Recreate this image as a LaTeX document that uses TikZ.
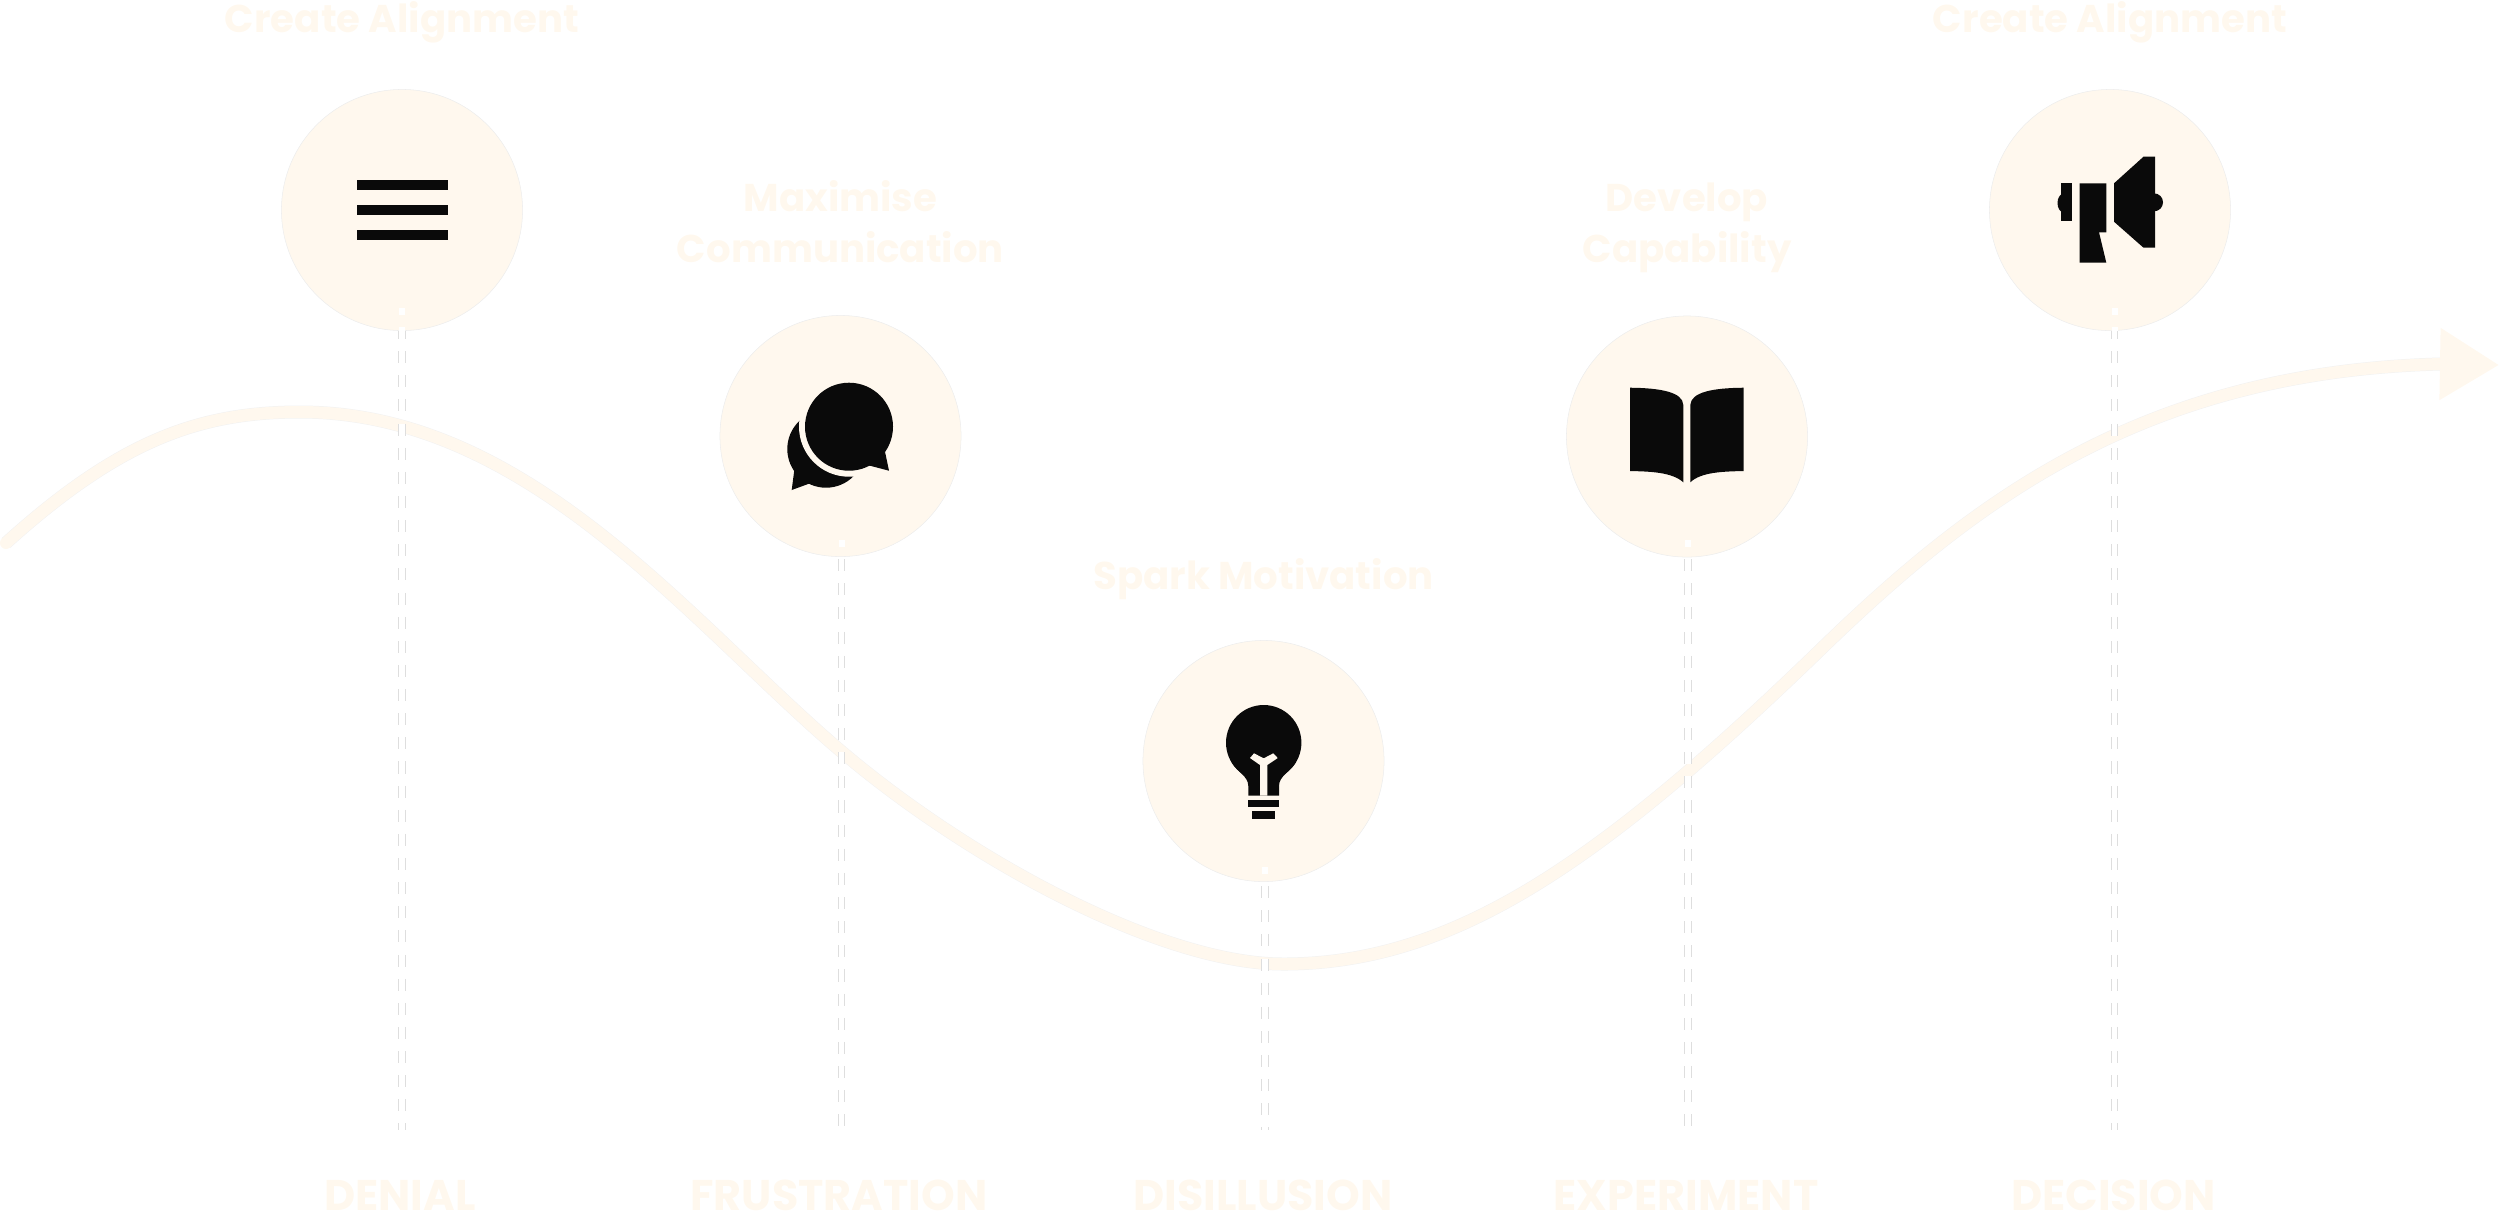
\documentclass[tikz,border=0pt]{standalone}
\usepackage{fontspec}
\setmainfont{Poppins}
\usetikzlibrary{arrows.meta, positioning}
\definecolor{cream}{HTML}{FFF8EE}
\definecolor{icon}{HTML}{0A0A0A}
\begin{document}
\begin{tikzpicture}[
  x=0.01cm, y=-0.01cm,
  stagecirc/.style={
    circle, fill=cream, draw=black!7, line width=0.15pt,
    minimum size=2.41cm, inner sep=0pt
  },
  tasktitle/.style={
    align=center, inner sep=0pt, text depth=0pt,
    text=cream, font=\fontsize{11}{14.5}\selectfont\bfseries
  },
  stagelabel/.style={
    inner sep=0pt, text=cream, font=\fontsize{12.2}{14}\selectfont\bfseries
  },
  dashtop/.style={
    draw=white, line width=0.06cm,
    dash pattern=on 0.1206cm off 0.1206cm, dash phase=0.05cm
  },
  dashln/.style={
    draw=black!13, line width=0.3pt, double=white, double distance=0.055cm,
    dash pattern=on 0.1206cm off 0.1206cm
  },
  arr/.style={
    -{Triangle[length=0.59cm, width=0.69cm]}, draw=cream,
    line width=0.12cm, line cap=round,
    preaction={draw=black!5, line width=0.13cm, shorten >=0.59cm, -}
  },
  iconfill/.style={fill=icon, draw=none},
  iconcut/.style={fill=cream, draw=none}
]
  \useasboundingbox (0,0) rectangle (2500,1217);

  \node[stagecirc] (c1) at (402,210) {};
  \node[stagecirc] (c2) at (840.5,436) {};
  \node[stagecirc] (c3) at (1263.5,761) {};
  \node[stagecirc] (c4) at (1687,436.5) {};
  \node[stagecirc] (c5) at (2110,210) {};

  \node[tasktitle, above=0.56cm of c1] (t1) {Create Alignment};
  \node[tasktitle, above=0.52cm of c2] (t2) {Maximise\\Communication};
  \node[tasktitle, above=0.50cm of c3] (t3) {Spark Motivation};
  \node[tasktitle, above=0.52cm of c4] (t4) {Develop\\Capability};
  \node[tasktitle, above=0.56cm of c5] (t5) {Create Alignment};

  \node[stagelabel] (l1) at (400,1195) {DENIAL};
  \node[stagelabel] (l2) at (839,1195) {FRUSTRATION};
  \node[stagelabel] (l3) at (1263,1195) {DISILLUSION};
  \node[stagelabel] (l4) at (1686,1195) {EXPERIMENT};
  \node[stagelabel] (l5) at (2113.5,1195) {DECISION};

  % the curve
  \coordinate (cstart) at (6,543);
  \coordinate (ctop) at (300,412);
  \coordinate (cdown) at (842,752);
  \coordinate (cbot) at (1283,964);
  \coordinate (cup) at (1820,650);
  \coordinate (cbase) at (2440,364);
  \coordinate (cend) at (2499,365);
  \draw[arr] (cstart) .. controls (120,440) and (200,412) .. (ctop)
    .. controls (530,412) and (692,625) .. (cdown)
    .. controls (972,862) and (1163,964) .. (cbot)
    .. controls (1453,964) and (1600,863) .. (cup)
    .. controls (1970,504.5) and (2140,372) .. (cbase) -- (cend);

  % drop lines
  \foreach \nm/\px/\py/\pb/\ph in {1/402/308/331/0.04, 2/841.5/540/557/0.22,
      3/1265/867/881.5/0.195, 4/1688/540/557/0.22, 5/2114.5/308/331/0.04}{
    \coordinate (d\nm) at (\px,\py);
    \coordinate (b\nm) at (\px,\pb);
    \coordinate (e\nm) at (\px,1130);
    \draw[dashtop] (d\nm) -- (b\nm);
    \draw[dashln, dash phase=\ph cm] (b\nm) -- (e\nm);
  }

  % bars
  \fill[iconfill] (356.7,180) rectangle (447.7,190.3);
  \fill[iconfill] (356.7,205.3) rectangle (447.7,215.3);
  \fill[iconfill] (356.7,230.3) rectangle (447.7,240.3);

  % speech bubbles
  \fill[iconfill] (826,449) circle (38.7);
  \fill[iconfill] (794.3,470) -- (791.7,490) -- (810,483.3) -- cycle;
  \fill[iconcut] (849,426.7) circle (50);
  \fill[iconfill] (849,426.7) circle (44);
  \fill[iconfill] (885,451.7) -- (889,470.7) -- (867.3,465) -- cycle;

  % bulb
  \fill[iconfill] (1263.7,742.7) circle (37.7);
  \fill[iconfill] (1231.5,762) .. controls (1237,772) and (1248.3,776) .. (1248.3,786)
    -- (1248.3,795.7) -- (1279,795.7) -- (1279,786)
    .. controls (1279,776) and (1290,772) .. (1296,762) -- cycle;
  \fill[iconcut] (1260,795.7) -- (1260,765) -- (1250,758) -- (1254,753.3)
    -- (1263.7,758.3) -- (1273.3,753.3) -- (1277.7,758) -- (1267.3,765)
    -- (1267.3,795.7) -- cycle;
  \fill[iconfill] (1248.3,800) rectangle (1279,807.3);
  \fill[iconfill] (1252.3,811) rectangle (1275,818.7);

  % book
  \fill[iconfill] (1630,387.7) .. controls (1660,388) and (1683,392) .. (1683.3,405)
    -- (1683.3,482.3) .. controls (1672,472) and (1650,471.5) .. (1630,471) -- cycle;
  \fill[iconfill] (1743.7,387.7) .. controls (1713,388) and (1691,392) .. (1690.3,405)
    -- (1690.3,482.3) .. controls (1701,472) and (1723,471.5) .. (1743.7,471) -- cycle;

  % megaphone
  \fill[iconfill] (2060.9,183.3) rectangle (2071.9,221.3);
  \fill[iconfill] (2063,203) ellipse (5.5 and 9);
  \fill[iconfill] (2079.5,183.3) -- (2106.3,183.3) -- (2106.3,232.3) -- (2099,232.3)
    -- (2106.3,262.7) -- (2079.5,262.7) -- cycle;
  \fill[iconfill] (2114,183.3) -- (2143.5,156.7) -- (2155.2,156.7) -- (2155.2,247.7)
    -- (2143.5,247.7) -- (2114,221.7) -- cycle;
  \fill[iconfill] (2154,202.3) circle (9);
\end{tikzpicture}
\end{document}
